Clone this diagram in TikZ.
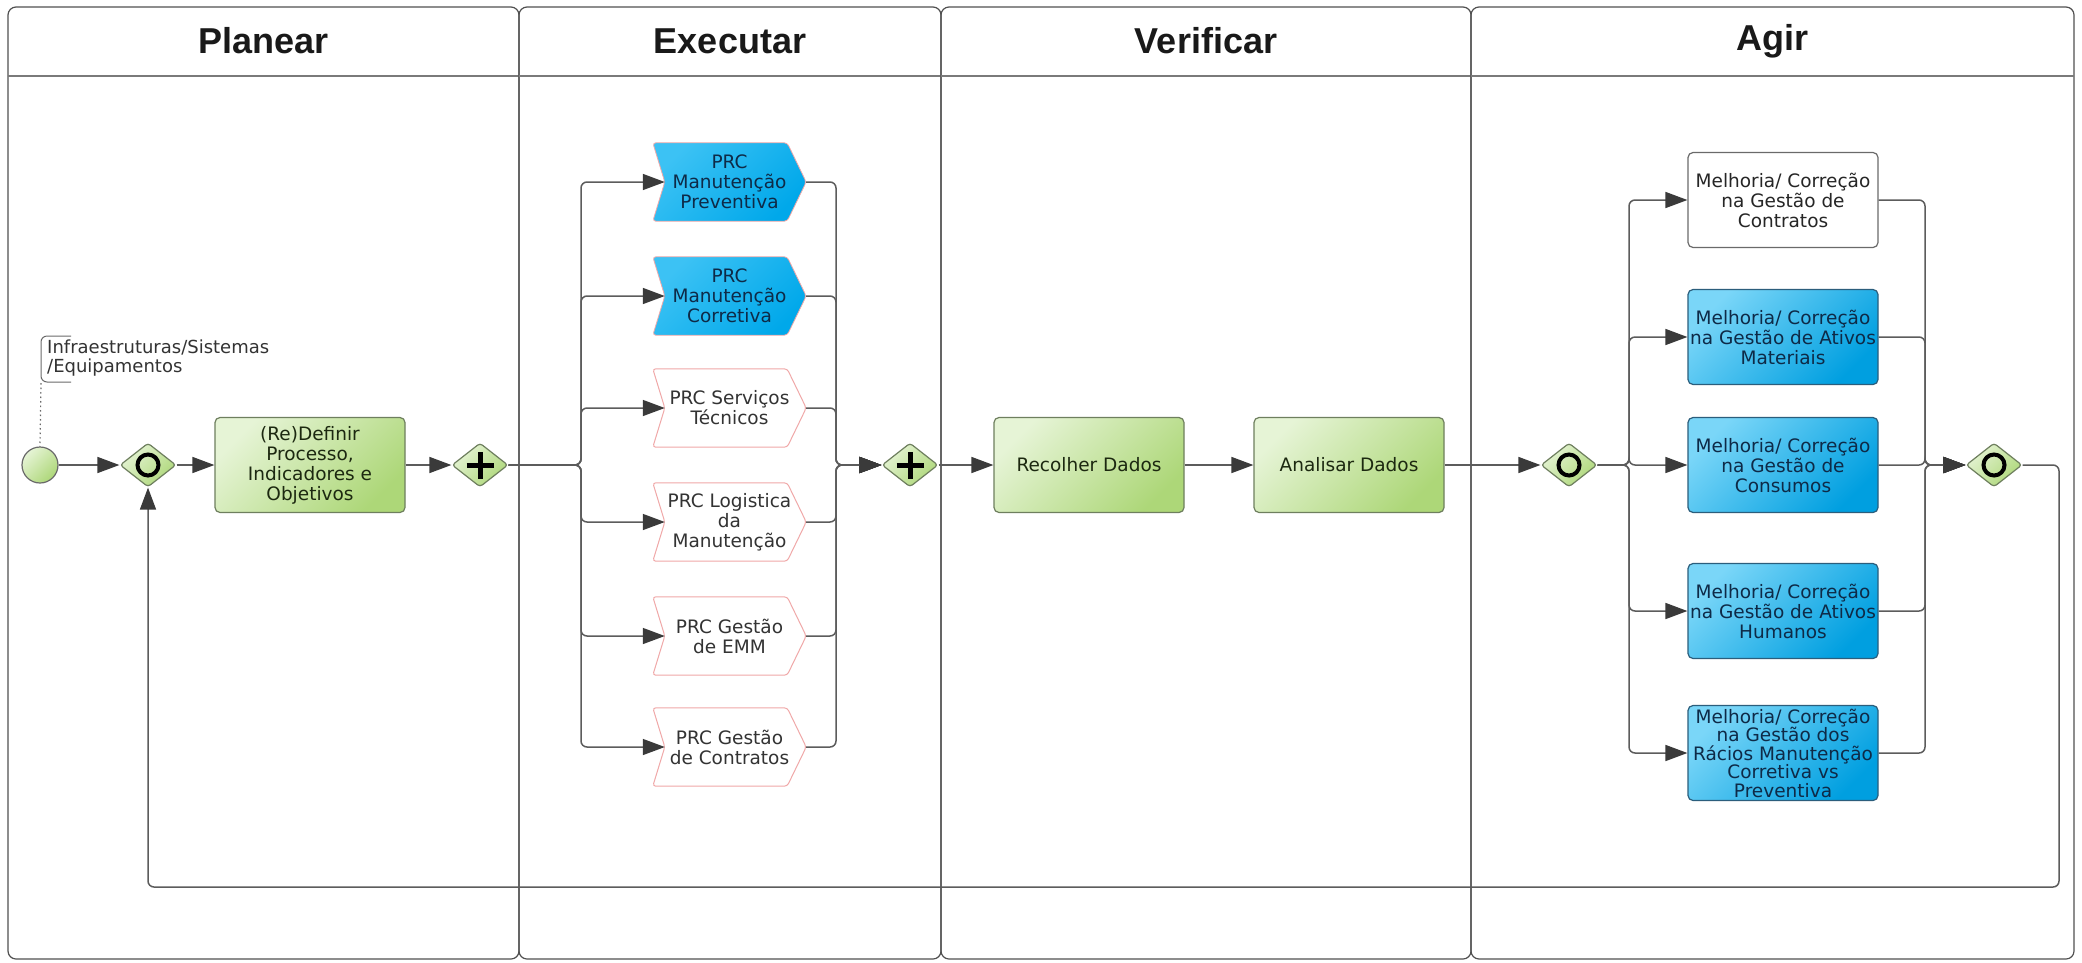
\documentclass[tikz,border=0pt]{standalone}
\usepackage{fontspec}
\setmainfont{DejaVu Sans}
\newfontfamily\headfont{Liberation Sans}
\usetikzlibrary{arrows.meta,calc,backgrounds,shapes.geometric}

\definecolor{laneLine}{HTML}{505050}
\definecolor{sepLine}{HTML}{7A7A7A}
\definecolor{flowLine}{HTML}{5C5C5C}
\definecolor{tipFill}{HTML}{3A3A3A}
\definecolor{grTop}{HTML}{E6F4D6}
\definecolor{grBot}{HTML}{ADD778}
\definecolor{grEdge}{HTML}{6E7F5E}
\definecolor{grText}{HTML}{1C2810}
\definecolor{blTop}{HTML}{7AD6F8}
\definecolor{blBot}{HTML}{009FE0}
\definecolor{blEdge}{HTML}{2B5E7C}
\definecolor{blText}{HTML}{0E2A47}
\definecolor{chevEdge}{HTML}{F0A8A8}
\definecolor{chevTop}{HTML}{3CC2F4}
\definecolor{chevBot}{HTML}{00A8EA}
\definecolor{noteGrey}{HTML}{6A6A6A}

% draws the chevron outline of a named process node
\newcommand\chevpath[2]{%
  \path[#2] (#1.north west) -- ($(#1.north east)+(-19,0)$) -- (#1.east)
    -- ($(#1.south east)+(-19,0)$) -- (#1.south west) -- ($(#1.west)+(12,0)$) -- cycle;}

\tikzset{
  body/.style={font={\fontsize{18.5pt}{20pt}\selectfont}, align=center},
  lane/.style={draw=laneLine, line width=1.2pt, rounded corners=8pt},
  headsep/.style={draw=sepLine, line width=1.2pt},
  head/.style={font={\headfont\bfseries\fontsize{36pt}{40pt}\selectfont}, text=black!90},
  greenfill/.style={top color=grTop, bottom color=grBot, shading angle=45},
  task/.style={body, greenfill, draw=grEdge, line width=1.2pt, rounded corners=5pt,
    minimum width=190pt, minimum height=95pt, inner sep=0pt, text=grText},
  gate/.style={diamond, greenfill, draw=grEdge, line width=1.2pt, rounded corners=3pt,
    minimum width=56pt, minimum height=44pt, inner sep=0pt},
  xorgate/.style={gate, path picture={\draw[line width=4pt, black]
    (path picture bounding box.center) circle[radius=10.5pt];}},
  andgate/.style={gate, path picture={\draw[line width=5pt, black]
    ([xshift=-13.5pt]path picture bounding box.center) -- ([xshift=13.5pt]path picture bounding box.center)
    ([yshift=-13.5pt]path picture bounding box.center) -- ([yshift=13.5pt]path picture bounding box.center);}},
  startev/.style={circle, greenfill, draw=noteGrey, line width=1.2pt, minimum size=36pt, inner sep=0pt},
  chevtext/.style={body, minimum width=153pt, minimum height=78pt, inner sep=0pt},
  chevblue/.style={top color=chevTop, bottom color=chevBot, shading angle=45, draw=chevEdge,
    line width=0.8pt, rounded corners=3pt},
  chevwhite/.style={fill=white, draw=chevEdge, line width=1pt, rounded corners=3pt},
  act/.style={body, rounded corners=5pt, minimum width=190pt, minimum height=95pt, inner sep=0pt,
    line width=1.2pt},
  actblue/.style={act, top color=blTop, bottom color=blBot, shading angle=45, draw=blEdge, text=blText},
  actwhite/.style={act, fill=white, draw=noteGrey, text=black!85},
  tight/.style={font={\fontsize{18.5pt}{18.5pt}\selectfont}},
  flow/.style={draw=flowLine, line width=1.5pt, rounded corners=6pt,
    -{Triangle[length=22pt,width=16pt,color=tipFill]}},
  note/.style={font={\fontsize{18pt}{18.5pt}\selectfont}, align=left, text=black!80, inner sep=0pt},
  notebracket/.style={draw=noteGrey, line width=1pt, rounded corners=6pt},
  association/.style={draw=noteGrey, line width=1.2pt, dash pattern=on 1.5pt off 3pt}
}

\begin{document}
\begin{tikzpicture}[x=1pt, y=-1pt]
\useasboundingbox (0,0) rectangle (2082,962);
\begin{scope}[on background layer]
  \fill[white] (0,0) rectangle (2082,962);
\end{scope}

% swim lanes with their headers
\foreach \xa/\xb in {8/519, 519/941, 941/1471, 1471/2074}{
  \draw[lane] (\xa,7) rectangle (\xb,959);
  \draw[headsep] (\xa,76) -- (\xb,76);
}
\node[head] (hPlan) at (263.5,41) {Planear};
\node[head] (hExec) at (730,41)   {Executar};
\node[head] (hVer)  at (1206,41)  {Verificar};
\node[head] (hAgir) at (1772.5,41){Agir};

% Planear
\node[startev] (start) at (40,465) {};
\node[xorgate] (gw1) at (148,465) {};
\node[task] (t1) at (310,465) {(Re)Definir\\Processo,\\Indicadores e\\Objetivos};
\node[andgate] (gp1) at (480,465) {};

% annotation attached to the start event
\node[note, anchor=west] (note) at (47,358) {Infraestruturas/Sistemas\\/Equipamentos};
\draw[notebracket] (71,336) -- (41,336) -- (41,382) -- (71,382);
\coordinate (noteFoot) at (41,383);
\draw[association] (noteFoot) -- (start.north);

% Executar
\node[chevtext, text=blText]   (c1) at (729.5,182) {PRC\\Manutenção\\Preventiva};
\node[chevtext, text=blText]   (c2) at (729.5,296) {PRC\\Manutenção\\Corretiva};
\node[chevtext, text=black!80] (c3) at (729.5,408) {PRC Serviços\\Técnicos};
\node[chevtext, text=black!80] (c4) at (729.5,522) {PRC Logistica\\da\\Manutenção};
\node[chevtext, text=black!80] (c5) at (729.5,636) {PRC Gestão\\de EMM};
\node[chevtext, text=black!80] (c6) at (729.5,747) {PRC Gestão\\de Contratos};
\begin{scope}[on background layer]
  \chevpath{c1}{chevblue}
  \chevpath{c2}{chevblue}
  \chevpath{c3}{chevwhite}
  \chevpath{c4}{chevwhite}
  \chevpath{c5}{chevwhite}
  \chevpath{c6}{chevwhite}
\end{scope}
\node[andgate] (gp2) at (910,465) {};

% Verificar
\node[task] (r1) at (1089,465) {Recolher Dados};
\node[task] (r2) at (1349,465) {Analisar Dados};

% Agir
\node[xorgate] (gw3) at (1569,465) {};
\node[actwhite] (b1) at (1783,200) {Melhoria/ Correção\\na Gestão de\\Contratos};
\node[actblue]  (b2) at (1783,337) {Melhoria/ Correção\\na Gestão de Ativos\\Materiais};
\node[actblue]  (b3) at (1783,465) {Melhoria/ Correção\\na Gestão de\\Consumos};
\node[actblue]  (b4) at (1783,611) {Melhoria/ Correção\\na Gestão de Ativos\\Humanos};
\node[actblue, tight] (b5) at (1783,753) {Melhoria/ Correção\\na Gestão dos\\Rácios Manutenção\\Corretiva vs\\Preventiva};
\node[xorgate] (gw4) at (1994,465) {};

% sequence flows
\draw[flow] (start.east) -- (gw1.west);
\draw[flow] (gw1.east) -- (t1.west);
\draw[flow] (t1.east) -- (gp1.west);

\coordinate (splitE) at (581,465);
\coordinate (joinE)  at (836,465);
\foreach \c in {c1,c2,c3,c4,c5,c6}{
  \draw[flow] (gp1.east) -- (splitE) |- ([xshift=12pt]\c.west);
  \draw[flow] (\c.east) -| (joinE) -- (gp2.west);
}

\draw[flow] (gp2.east) -- (r1.west);
\draw[flow] (r1.east) -- (r2.west);
\draw[flow] (r2.east) -- (gw3.west);

\coordinate (splitA) at (1629,465);
\coordinate (joinA)  at (1925,465);
\foreach \b in {b1,b2,b3,b4,b5}{
  \draw[flow] (gw3.east) -- (splitA) |- (\b.west);
  \draw[flow] (\b.east) -| (joinA) -- (gw4.west);
}

% loop back to the first gateway
\coordinate (loopCorner) at (2059,887);
\draw[flow] (gw4.east) -| (loopCorner) -| (gw1.south);
\end{tikzpicture}
\end{document}
